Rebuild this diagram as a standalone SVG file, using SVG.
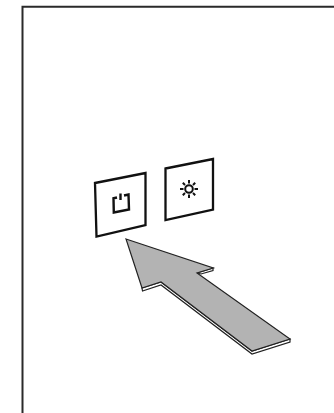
<svg xmlns="http://www.w3.org/2000/svg" width="334" height="413" viewBox="0 0 334 413">
<style>
.k{fill:none;stroke:#111;stroke-width:2.4;stroke-linejoin:miter}
.t{stroke-width:2}
.s{fill:#fff;stroke:#111;stroke-width:2.3}
.a{fill:#b3b3b3;stroke:#222;stroke-width:1.2;stroke-linejoin:miter}
.e{fill:#fff;stroke:#222;stroke-width:1.2}
</style>
<rect width="334" height="413" fill="#fff"/>
<path id="frame" d="M22.500 413V6.700H334" fill="none" stroke="#2a2a2a" stroke-width="2"/>
<g id="power-button">
<polygon class="s" points="95,183 145.500,173 145.500,225 96.500,236.500"/>
<path class="k" d="M120.500 193.500V200M117 197.500 113.500 198.300 113.800 212.500 129 209.500 128.500 194.500 124 195.500"/>
</g>
<g id="light-button">
<polygon class="s" points="165.500,168.500 213,159 213,209.500 165.500,220"/>
<circle class="k t" cx="189" cy="189" r="3.800"/>
<path class="k t" d="M189 183.500V180M189 194.500V198M183.500 189H180M194.500 189H198M185 185 182.800 182.800M193 185 195.200 182.800M185 193 182.800 195.200M193 193 195.200 195.200"/>
</g>
<g id="connectors">
<g id="arrow">
<path class="e" d="M142 288 L142.500 291 L161 285 L252 354 L290 342 L290 339 L252 351 L161 282Z"/>
<path class="e" d="M213 268 L213 270.500 L201 274 L197 273Z"/>
<polygon class="a" points="126,239 213.300,268 197,273 290,339 252,351 161,282 142,288"/>
</g>
</g>
</svg>
